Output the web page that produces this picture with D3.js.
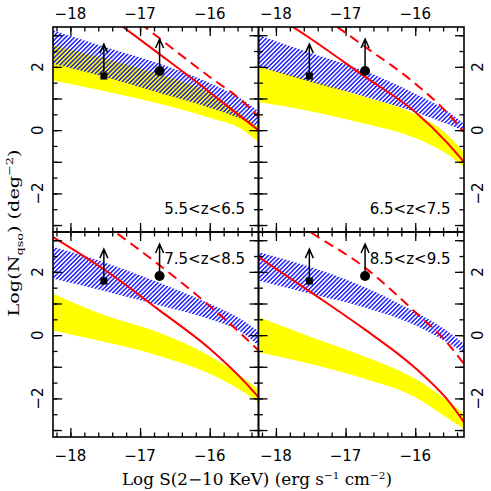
<!DOCTYPE html>
<html>
<head>
<meta charset="utf-8">
<script src="https://cdn.jsdelivr.net/npm/d3@7"></script>
<style>
  body { margin: 0; background: #fff; }
  svg { display: block; }
</style>
</head>
<body>
<div id="chart"></div>
<script>
const xs = [-18.25, -17.5, -16.75, -16.0, -15.55, -15.3];

const zLabels = ["5.5<z<6.5", "6.5<z<7.5", "7.5<z<8.5", "8.5<z<9.5"];

// yellow band (upper / lower edge), one row per panel
const yellowHi = [
	[2.68, 2.26, 1.78, 1.17, 0.50, 0.10],
	[2.00, 1.57, 1.07, 0.50, -0.12, -0.70],
	[1.31, 0.62, 0.10, -0.66, -1.30, -1.72],
	[0.57, -0.06, -0.66, -1.38, -2.05, -2.49]
];
const yellowLo = [
	[1.57, 1.23, 0.85, 0.39, 0.04, -0.38],
	[0.89, 0.60, 0.22, -0.25, -0.75, -1.17],
	[0.15, -0.22, -0.64, -1.22, -1.75, -2.12],
	[-0.54, -0.91, -1.36, -1.96, -2.60, -2.96]
];

// blue hatched band
const blueHi = [
	[3.15, 2.63, 2.12, 1.49, 0.99, 0.60],
	[3.00, 2.44, 1.89, 1.15, 0.62, 0.20],
	[2.79, 2.29, 1.68, 0.99, 0.50, 0.12],
	[2.63, 2.15, 1.54, 0.73, 0.15, -0.27]
];
const blueLo = [
	[2.10, 1.68, 1.20, 0.71, 0.36, 0.10],
	[2.00, 1.52, 1.08, 0.57, 0.20, -0.03],
	[1.78, 1.39, 0.96, 0.50, 0.10, -0.33],
	[1.73, 1.31, 0.89, 0.31, -0.22, -0.56]
];

// red curves
const redSolid = [
	[4.90, 3.68, 2.45, 1.20, 0.42, 0.00],
	[3.96, 2.89, 1.73, 0.57, -0.38, -1.01],
	[3.10, 2.05, 0.83, -0.43, -1.36, -1.96],
	[2.47, 1.36, 0.22, -1.04, -2.01, -2.75]
];
const redDashed = [
	[5.60, 4.26, 2.95, 1.68, 0.95, 0.42],
	[5.00, 3.85, 2.68, 1.47, 0.57, -0.06],
	[4.70, 3.49, 2.26, 0.92, 0.04, -0.48],
	[4.40, 3.25, 2.18, 0.73, -0.22, -0.91]
];

// lower limits (same in every panel): [x, y, top of arrow]
const limSquare = [-17.52, 1.71, 2.72];
const limCircle = [-16.72, 1.87, 2.88];

const xTicks = [-18, -17, -16];
const yTicks = [-2, 0, 2];

const W = 491, H = 491;
const padLeft = 53, padTop = 27;
const pw = 205.5, ph = 205;

var svg = d3.select("#chart").append("svg")
	.attr("width", W)
	.attr("height", H);

var defs = svg.append("defs");
var pat = defs.append("pattern")
	.attr("id", "hatch")
	.attr("patternUnits", "userSpaceOnUse")
	.attr("width", 3.1)
	.attr("height", 3.1)
	.attr("patternTransform", "rotate(45)");
pat.append("line")
	.attr("x1", 1.55).attr("y1", -1)
	.attr("x2", 1.55).attr("y2", 4.1)
	.attr("stroke", "#0000ff")
	.attr("stroke-width", 1.3);

function drawPanel(i) {
	var col = i % 2, row = Math.floor(i / 2);
	var x0 = padLeft + col * pw, y0 = padTop + row * ph;

	var x = d3.scaleLinear().domain([-18.25, -15.3]).range([x0, x0 + pw]);
	var y = d3.scaleLinear().domain([-3.22, 3.26]).range([y0 + ph, y0]);

	defs.append("clipPath").attr("id", "clip" + i)
		.append("rect")
		.attr("x", x0).attr("y", y0)
		.attr("width", pw).attr("height", ph);

	var g = svg.append("g").attr("clip-path", "url(#clip" + i + ")");

	var area = d3.area()
		.x(function(d) { return x(d.x); })
		.y0(function(d) { return y(d.lo); })
		.y1(function(d) { return y(d.hi); })
		.curve(d3.curveMonotoneX);

	var yel = xs.map(function(v, k) { return { x: v, lo: yellowLo[i][k], hi: yellowHi[i][k] }; });
	var blu = xs.map(function(v, k) { return { x: v, lo: blueLo[i][k], hi: blueHi[i][k] }; });

	g.append("path").datum(yel)
		.attr("d", area)
		.attr("fill", "#ffff00");

	g.append("path").datum(blu)
		.attr("d", area)
		.attr("fill", "url(#hatch)");

	var line = d3.line()
		.x(function(d) { return x(d[0]); })
		.y(function(d) { return y(d[1]); })
		.curve(d3.curveMonotoneX);

	g.append("path").datum(d3.zip(xs, redSolid[i]))
		.attr("d", line)
		.attr("fill", "none")
		.attr("stroke", "#ff0000")
		.attr("stroke-width", 2);

	g.append("path").datum(d3.zip(xs, redDashed[i]))
		.attr("d", line)
		.attr("fill", "none")
		.attr("stroke", "#ff0000")
		.attr("stroke-width", 2)
		.attr("stroke-dasharray", "10,6");

	// lower limits with arrows
	[limSquare, limCircle].forEach(function(p, k) {
		var px = x(p[0]), py = y(p[1]), pt = y(p[2]);
		g.append("path")
			.attr("d", "M" + px + "," + py + "V" + pt +
				"M" + (px - 4) + "," + (pt + 9) + "L" + px + "," + pt + "L" + (px + 4) + "," + (pt + 9))
			.attr("fill", "none")
			.attr("stroke", "#000")
			.attr("stroke-width", 1.5);
		if (k === 0) {
			g.append("rect")
				.attr("x", px - 3.5).attr("y", py - 3.5)
				.attr("width", 7).attr("height", 7)
				.attr("fill", "#000");
		} else {
			g.append("circle")
				.attr("cx", px).attr("cy", py).attr("r", 5)
				.attr("fill", "#000");
		}
	});

	// ticks on all sides, pointing in
	var axes = svg.append("g").attr("class", "ticks");
	var xMinor = d3.range(-18.2, -15.35, 0.2);
	var yMinor = d3.range(-3, 3.01, 0.5);
	var yMajor = d3.range(-3, 3.01, 1);

	function tickAxis(axisFn, scale, vals, size, tr) {
		axes.append("g")
			.attr("transform", tr)
			.call(axisFn(scale).tickValues(vals).tickSize(-size).tickFormat(""))
			.call(function(s) { s.select(".domain").remove(); })
			.selectAll("line").attr("stroke", "#000").attr("stroke-width", 1.3);
	}
	tickAxis(d3.axisBottom, x, xMinor, 4.5, "translate(0," + (y0 + ph) + ")");
	tickAxis(d3.axisBottom, x, xTicks, 9, "translate(0," + (y0 + ph) + ")");
	tickAxis(d3.axisTop, x, xMinor, 4.5, "translate(0," + y0 + ")");
	tickAxis(d3.axisTop, x, xTicks, 9, "translate(0," + y0 + ")");
	tickAxis(d3.axisLeft, y, yMinor, 4.5, "translate(" + x0 + ",0)");
	tickAxis(d3.axisLeft, y, yMajor, 9, "translate(" + x0 + ",0)");
	tickAxis(d3.axisRight, y, yMinor, 4.5, "translate(" + (x0 + pw) + ",0)");
	tickAxis(d3.axisRight, y, yMajor, 9, "translate(" + (x0 + pw) + ",0)");

	svg.append("rect")
		.attr("x", x0).attr("y", y0)
		.attr("width", pw).attr("height", ph)
		.attr("fill", "none")
		.attr("stroke", "#000")
		.attr("stroke-width", 1.6);

	// tick labels
	var fmt = d3.format("d");
	var lab = svg.append("g")
		.style("font-family", "DejaVu Sans")
		.style("font-size", "15px")
		.attr("fill", "#000");
	xTicks.forEach(function(v) {
		lab.append("text").attr("x", x(v)).attr("y", row === 0 ? 19 : 461)
			.attr("text-anchor", "middle").text(fmt(v));
	});
	var ly = col === 0 ? x0 - 15 : x0 + pw + 14;
	yTicks.forEach(function(v) {
		lab.append("text")
			.attr("transform", "translate(" + ly + "," + y(v) + ") rotate(-90)")
			.attr("text-anchor", "middle")
			.attr("dy", "0.36em")
			.text(fmt(v));
	});

	// redshift label
	lab.append("text")
		.attr("x", x0 + 192)
		.attr("y", row === 0 ? y0 + 187 : y0 + 32)
		.attr("text-anchor", "end")
		.text(zLabels[i]);
}

for (var i = 0; i < 4; i++) drawPanel(i);

// axis titles
var xt = svg.append("text")
	.attr("x", 257).attr("y", 485)
	.attr("text-anchor", "middle")
	.attr("textLength", 270)
	.attr("lengthAdjust", "spacingAndGlyphs")
	.style("font-family", "DejaVu Serif")
	.style("font-size", "16px");
xt.append("tspan").text("Log S(2\u221210 KeV) (erg s");
xt.append("tspan").attr("dy", -6).style("font-size", "10px").text("\u22121");
xt.append("tspan").attr("dy", 6).text(" cm");
xt.append("tspan").attr("dy", -6).style("font-size", "10px").text("\u22122");
xt.append("tspan").attr("dy", 6).text(")");

var yt = svg.append("text")
	.attr("transform", "translate(19,233) rotate(-90)")
	.attr("text-anchor", "middle")
	.attr("textLength", 167)
	.attr("lengthAdjust", "spacingAndGlyphs")
	.style("font-family", "DejaVu Serif")
	.style("font-size", "15px");
yt.append("tspan").text("Log(N");
yt.append("tspan").attr("dy", 4).style("font-size", "10px").text("qso");
yt.append("tspan").attr("dy", -4).text(") (deg");
yt.append("tspan").attr("dy", -6).style("font-size", "10px").text("\u22122");
yt.append("tspan").attr("dy", 6).text(")");
</script>
</body>
</html>
